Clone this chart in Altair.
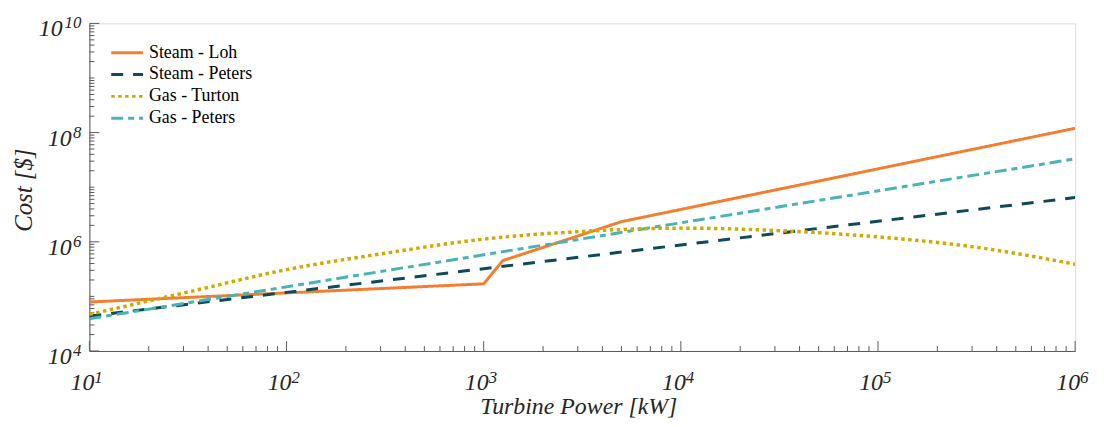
import altair as alt
import pandas as pd

# ---------------- data ----------------
series_names = ["Steam - Loh", "Steam - Peters", "Gas - Turton", "Gas - Peters"]
series_colors = ["#F47E30", "#0E4A57", "#D4A800", "#4AB3B3"]
series_dashes = [[1, 0], [12, 10], [3.5, 3.5], [12, 5, 6, 5]]

loh_power = [10, 1000, 1250, 5000, 1000000]
loh_cost = [79000, 170000, 452000, 2340000, 120000000]

steam_peters_power = [10, 1000000]
steam_peters_cost = [43600, 6460000]

gas_turton_power = [10, 31.6, 100, 316, 1000, 3160, 10000, 31600, 100000, 316000, 1000000]
gas_turton_cost = [46800, 120000, 309000, 617000, 1120000, 1550000, 1780000,
                   1600000, 1230000, 794000, 389000]

gas_peters_power = [10, 1000000]
gas_peters_cost = [38900, 33100000]

x_decades = [10, 100, 1000, 10000, 100000, 1000000]
x_exps = ["1", "2", "3", "4", "5", "6"]
y_labeled = [1e4, 1e6, 1e8, 1e10]
y_exps = ["4", "6", "8", "10"]
y_all_decades = [1e4, 1e5, 1e6, 1e7, 1e8, 1e9, 1e10]

x_title = "Turbine Power [kW]"
y_title = "Cost [$]"

# ---------------- tables ----------------
rows = []
for name, p, c in [
    ("Steam - Loh", loh_power, loh_cost),
    ("Steam - Peters", steam_peters_power, steam_peters_cost),
    ("Gas - Turton", gas_turton_power, gas_turton_cost),
    ("Gas - Peters", gas_peters_power, gas_peters_cost),
]:
    for i, (pp, cc) in enumerate(zip(p, c)):
        rows.append({"series": name, "power": pp, "cost": cc, "idx": i})
lines = pd.DataFrame(rows)

x_minor = [d * k for d in x_decades[:-1] for k in range(2, 10)]
y_minor = [d * k for d in y_all_decades[:-1] for k in range(1, 10)
           if (d * k) not in y_labeled]

xmaj = pd.DataFrame({"v": x_decades, "e": x_exps})
ymaj = pd.DataFrame({"v": y_labeled, "e": y_exps, "n": [len(e) for e in y_exps]})
xmin = pd.DataFrame({"v": x_minor})
ymin = pd.DataFrame({"v": y_minor})

W, H = 993, 330
AX = "#5a5a5a"
TXT = "#262626"
FONT = "Liberation Serif"

XS = alt.Scale(type="log", domain=[10, 1000000], nice=False)
YS = alt.Scale(type="log", domain=[1e4, 1e10], nice=False)
XA = alt.Axis(labels=False, ticks=False, grid=False, title=None, domainColor=AX, domainWidth=1)
YA = alt.Axis(labels=False, ticks=False, grid=False, title=None, domainColor=AX, domainWidth=1)

leg = dict(title=None, orient="none", legendX=28.5, legendY=20, symbolType="M-2,0H2",
           symbolStrokeWidth=3, symbolSize=256, labelFont=FONT, labelFontSize=18,
           labelColor="black", rowPadding=3, padding=0, labelOffset=12.5)

color_enc = alt.Color("series:N", scale=alt.Scale(domain=series_names, range=series_colors),
                      legend=alt.Legend(**leg))
dash_enc = alt.StrokeDash("series:N", scale=alt.Scale(domain=series_names, range=series_dashes),
                          legend=alt.Legend(**leg))

base_line = alt.Chart(lines).encode(
    x=alt.X("power:Q", scale=XS, axis=XA),
    y=alt.Y("cost:Q", scale=YS, axis=YA),
    color=color_enc,
    strokeDash=dash_enc,
    order="idx:Q",
)
lin_layer = base_line.mark_line(strokeWidth=3, clip=True).transform_filter(
    "datum.series != 'Gas - Turton'")
curve_layer = base_line.mark_line(strokeWidth=3.5, interpolate="monotone", clip=True).transform_filter(
    "datum.series == 'Gas - Turton'")

# ticks (inward)
xmaj_t = alt.Chart(xmaj).mark_rule(color=AX, strokeWidth=1).encode(
    x=alt.X("v:Q", scale=XS, axis=XA), y=alt.value(H - 10), y2=alt.value(H))
xmin_t = alt.Chart(xmin).mark_rule(color=AX, strokeWidth=1).encode(
    x=alt.X("v:Q", scale=XS, axis=XA), y=alt.value(H - 5), y2=alt.value(H))
ymaj_t = alt.Chart(ymaj).mark_rule(color=AX, strokeWidth=1).encode(
    y=alt.Y("v:Q", scale=YS, axis=YA), x=alt.value(0), x2=alt.value(10))
ymin_t = alt.Chart(ymin).mark_rule(color=AX, strokeWidth=1).encode(
    y=alt.Y("v:Q", scale=YS, axis=YA), x=alt.value(0), x2=alt.value(5))

# tick labels with superscripts
xl_base = alt.Chart(xmaj).mark_text(font=FONT, fontStyle="italic", fontSize=24, color=TXT,
                                    align="right", baseline="alphabetic", dx=5).encode(
    x=alt.X("v:Q", scale=XS, axis=XA), y=alt.value(H + 39), text=alt.value("10"))
xl_exp = alt.Chart(xmaj).mark_text(font=FONT, fontStyle="italic", fontSize=17, color=TXT,
                                   align="left", baseline="alphabetic", dx=5).encode(
    x=alt.X("v:Q", scale=XS, axis=XA), y=alt.value(H + 32), text="e:N")

yl_base1 = alt.Chart(ymaj).transform_filter("datum.n == 1").mark_text(
    font=FONT, fontStyle="italic", fontSize=24, color=TXT, align="right",
    baseline="alphabetic", dy=13).encode(
    y=alt.Y("v:Q", scale=YS, axis=YA), x=alt.value(-18), text=alt.value("10"))
yl_base2 = alt.Chart(ymaj).transform_filter("datum.n == 2").mark_text(
    font=FONT, fontStyle="italic", fontSize=24, color=TXT, align="right",
    baseline="alphabetic", dy=13).encode(
    y=alt.Y("v:Q", scale=YS, axis=YA), x=alt.value(-27), text=alt.value("10"))
yl_exp = alt.Chart(ymaj).mark_text(font=FONT, fontStyle="italic", fontSize=17, color=TXT,
                                   align="right", baseline="alphabetic", dy=5).encode(
    y=alt.Y("v:Q", scale=YS, axis=YA), x=alt.value(-8), text="e:N")

# axis titles
titles = pd.DataFrame({"t": [x_title, y_title]})
xt = alt.Chart(titles).transform_filter(alt.datum.t == x_title).mark_text(
    font=FONT, fontStyle="italic", fontSize=24, color=TXT, align="center",
    baseline="alphabetic").encode(x=alt.value(493), y=alt.value(H + 63), text="t:N")
yt = alt.Chart(titles).transform_filter(alt.datum.t == y_title).mark_text(
    font=FONT, fontStyle="italic", fontSize=25, color=TXT, align="center",
    baseline="middle", angle=270).encode(x=alt.value(-66), y=alt.value(168), text="t:N")

chart = alt.layer(
    xmin_t, xmaj_t, ymin_t, ymaj_t,
    lin_layer, curve_layer,
    xl_base, xl_exp, yl_base1, yl_base2, yl_exp, xt, yt,
).properties(
    width=W, height=H,
    padding={"left": 82, "top": 14, "right": 21, "bottom": 70},
    autosize=alt.AutoSizeParams(type="none"),
).configure_view(stroke=None).configure(background="white")

chart.save("out.html", embed_options={"renderer": "svg", "actions": False})
